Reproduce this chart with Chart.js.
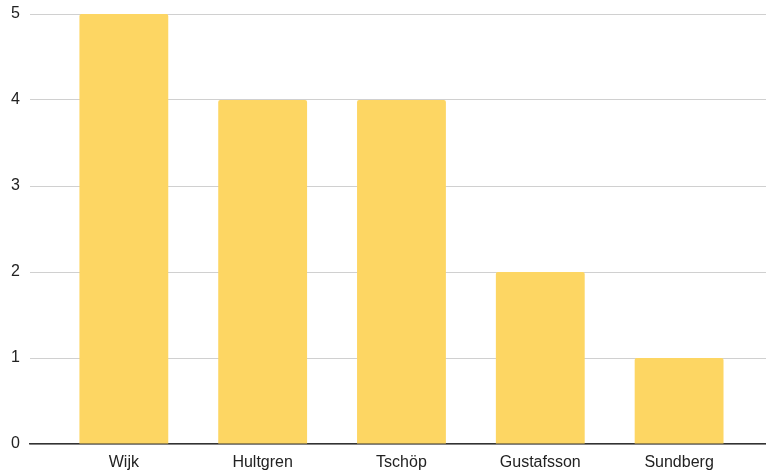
<!DOCTYPE html>
<html>
<head>
<meta charset="utf-8">
<script src="https://cdn.jsdelivr.net/npm/chart.js@4/dist/chart.umd.min.js"></script>
<style>
  html, body { margin: 0; padding: 0; background: #fff; }
  #wrap { width: 766px; height: 472px; }
</style>
</head>
<body>
<div id="wrap"><canvas id="chart"></canvas></div>
<script>
// Spelare och antal
const names = ['Wijk', 'Hultgren', 'Tschöp', 'Gustafsson', 'Sundberg'];
const counts = [5, 4, 4, 2, 1];
const yTicks = [0, 1, 2, 3, 4, 5];

const axisFont = { family: 'Liberation Sans, Arial', size: 16 };

const ctx = document.getElementById('chart').getContext('2d');
new Chart(ctx, {
    type: 'bar',
    data: {
        datasets: [{
            data: counts.map((v, i) => ({ x: i, y: v })),
            backgroundColor: '#FDD663',
            borderRadius: 2,
            borderSkipped: 'start',
            categoryPercentage: 0.8,
            barPercentage: 0.8
        }]
    },
    options: {
        responsive: true,
        maintainAspectRatio: false,
        animation: false,
        layout: { padding: { top: 14, right: 0, bottom: 0, left: 0 } },
        plugins: {
            legend: { display: false },
            tooltip: { enabled: false }
        },
        scales: {
            x: {
                type: 'linear',
                offset: false,
                min: -0.676,
                max: 4.626,
                afterFit: s => { s.height = 28; },
                grid: { display: false, drawTicks: false },
                border: { display: true, color: '#333', width: 1.5 },
                afterBuildTicks: s => { s.ticks = names.map((_, i) => ({ value: i })); },
                ticks: {
                    autoSkip: false,
                    maxRotation: 0,
                    padding: 9,
                    color: '#222',
                    font: axisFont,
                    callback: v => names[v]
                }
            },
            y: {
                min: 0,
                max: 5,
                afterFit: s => {
                    s.width = 30;
                    s.paddingTop = 0;
                    s.paddingBottom = 0;
                },
                afterBuildTicks: s => { s.ticks = yTicks.map(v => ({ value: v })); },
                grid: { color: '#d0d0d0', lineWidth: 1, drawTicks: false },
                border: { display: false },
                ticks: {
                    padding: 10,
                    color: '#222',
                    font: axisFont
                }
            }
        }
    }
});
</script>
</body>
</html>
